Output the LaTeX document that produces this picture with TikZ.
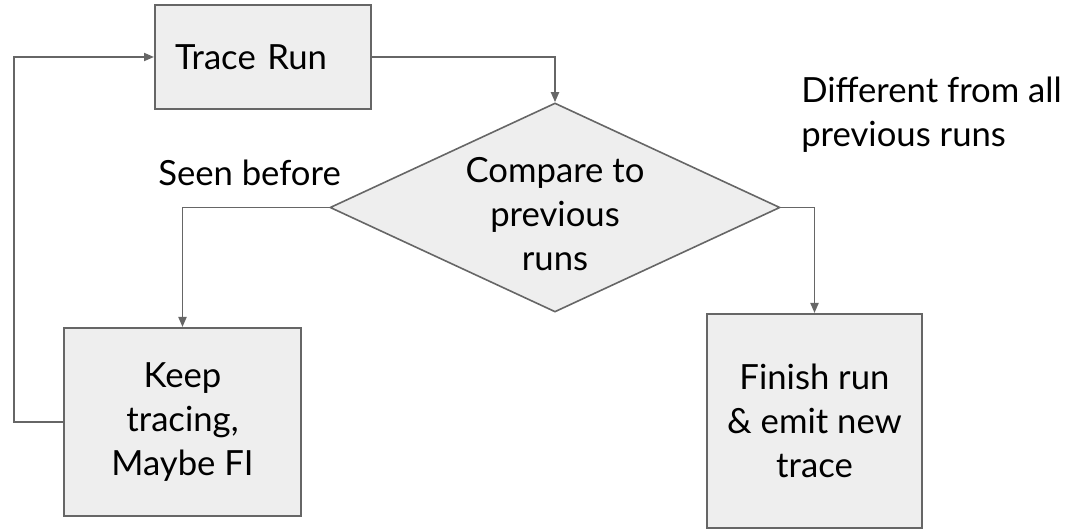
\documentclass[tikz,border=0pt]{standalone}
\usepackage{fontspec}
\setmainfont{Lato}
\usetikzlibrary{arrows.meta,shapes.geometric}
\definecolor{boxfill}{HTML}{EEEEEE}
\definecolor{edge}{HTML}{666666}
\tikzset{
  x=0.75pt, y=-0.75pt,
  every node/.style={font=\fontsize{26}{33}\selectfont},
  box/.style={draw=edge, fill=boxfill, line width=1.5pt, inner sep=0pt, align=center},
  dia/.style={draw=edge, fill=boxfill, line width=1.2pt, diamond, inner sep=0pt,
              minimum width=337.5pt, minimum height=156.75pt},
  conn/.style={draw=edge, line width=1.4pt, -{Triangle[length=7.5pt,width=6pt]}},
  plain/.style={draw=edge, line width=1.4pt},
  lbl/.style={inner sep=0pt, align=left}
}
\begin{document}
\begin{tikzpicture}
\useasboundingbox (0,0) rectangle (1066,530);

% process boxes
\node[box, minimum width=162pt, minimum height=78pt, text width=132pt, align=left]
  (trace) at (263,57) {Trace Run};
\node[box, minimum width=177.75pt, minimum height=141pt] (keep) at (182.5,422)
  {Keep\\tracing,\\Maybe FI};
\node[box, minimum width=161.25pt, minimum height=160.5pt] (finish) at (814.5,421)
  {Finish run\\\& emit new\\trace};

% decision
\node[dia] (cmp) at (555,207.5) {};
\node[inner sep=0pt, align=center] (cmptext) at (555,214) {Compare to\\previous\\runs};

% branch labels
\node[lbl, anchor=base west] (seen) at (158,186) {Seen before};
\node[lbl, anchor=base west] (diff) at (801,147) {Different from all\\previous runs};

% connectors
\coordinate (loopx) at (14,0);
\draw[conn] (trace.east) -| (cmp.north);
\draw[conn] (cmp.west) -| (keep.north);
\draw[conn] (cmp.east) -| (finish.north);
\draw[conn] (keep.west) -- (keep.west -| loopx) |- (trace.west);
\end{tikzpicture}
\end{document}
